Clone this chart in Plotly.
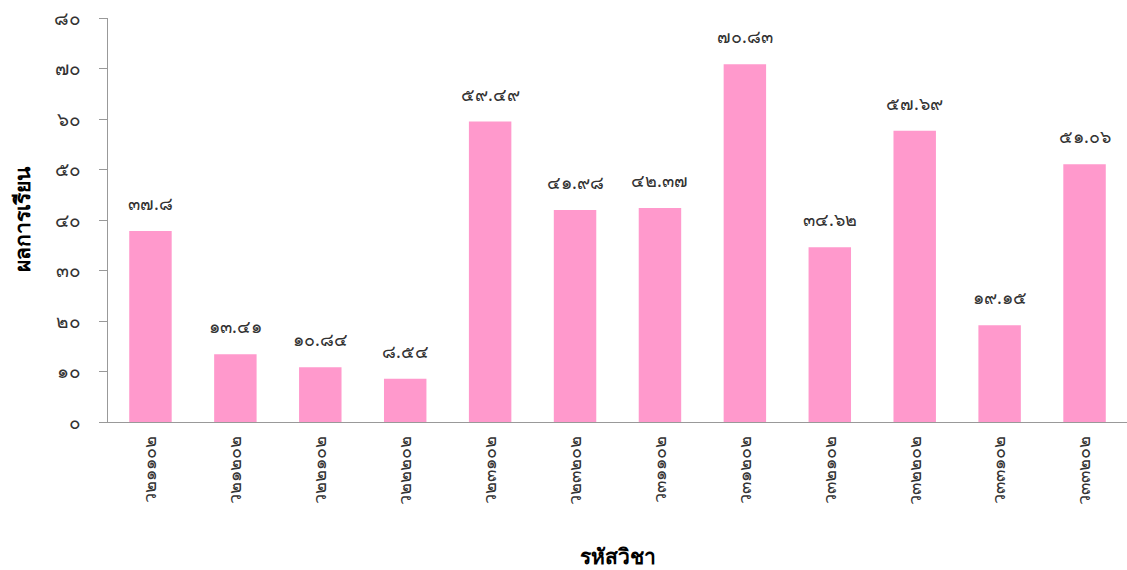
import plotly.graph_objects as go

categories = ["ว21102", "ว21202", "ว22102", "ว22202", "ว23102", "ว23202",
              "ว31102", "ว31202", "ว32102", "ว32202", "ว33102", "ว33202"]
scores = [37.8, 13.41, 10.84, 8.54, 59.49, 41.98, 42.37, 70.83, 34.62, 57.69, 19.15, 51.06]
score_labels = ["37.8", "13.41", "10.84", "8.54", "59.49", "41.98", "42.37", "70.83", "34.62", "57.69", "19.15", "51.06"]
y_ticks = [0, 10, 20, 30, 40, 50, 60, 70, 80]

THAI = str.maketrans("0123456789", "๐๑๒๓๔๕๖๗๘๙")


def th(s):
    return str(s).translate(THAI)


cat_text = [th(c) for c in categories]

FONT = "Noto Sans, Tahoma, sans-serif"

fig = go.Figure()
fig.add_trace(go.Bar(
    x=cat_text, y=scores,
    marker=dict(color="#FF99CC", line=dict(width=0)),
    hoverinfo="skip",
))

for c, v, lab in zip(cat_text, scores, score_labels):
    fig.add_annotation(x=c, y=v, text=th(lab), showarrow=False,
                       yanchor="bottom", yshift=14,
                       font=dict(size=18, color="#333333", family=FONT))

fig.update_layout(
    width=1127, height=570,
    margin=dict(l=108, r=0, t=18, b=148),
    paper_bgcolor="white", plot_bgcolor="white",
    bargap=0.5,
    showlegend=False,
    font=dict(family=FONT, color="#333333"),
    xaxis=dict(
        automargin=False,
        showline=True, linecolor="#999999", linewidth=1,
        ticks="", tickangle=-90, tickfont=dict(size=18, color="#333333"),
        ticklabelstandoff=6,
        title=dict(text="<b>รหัสวิชา</b>", font=dict(size=21, color="black"), standoff=45),
    ),
    yaxis=dict(
        automargin=False,
        range=[0, 80], tickvals=y_ticks, ticktext=[th(t) for t in y_ticks],
        showgrid=False, zeroline=False,
        showline=True, linecolor="#999999", linewidth=1,
        ticks="outside", ticklen=8, tickcolor="#999999",
        ticklabelstandoff=14,
        tickfont=dict(size=19, color="#333333"),
        title=dict(text="<b>ผลการเรียน</b>", font=dict(size=21, color="black"), standoff=17),
    ),
)

fig.write_html(
    "out.html",
    config={"responsive": False, "displayModeBar": False},
    post_script="document.body.style.margin='0';document.body.style.overflow='hidden';",
)
